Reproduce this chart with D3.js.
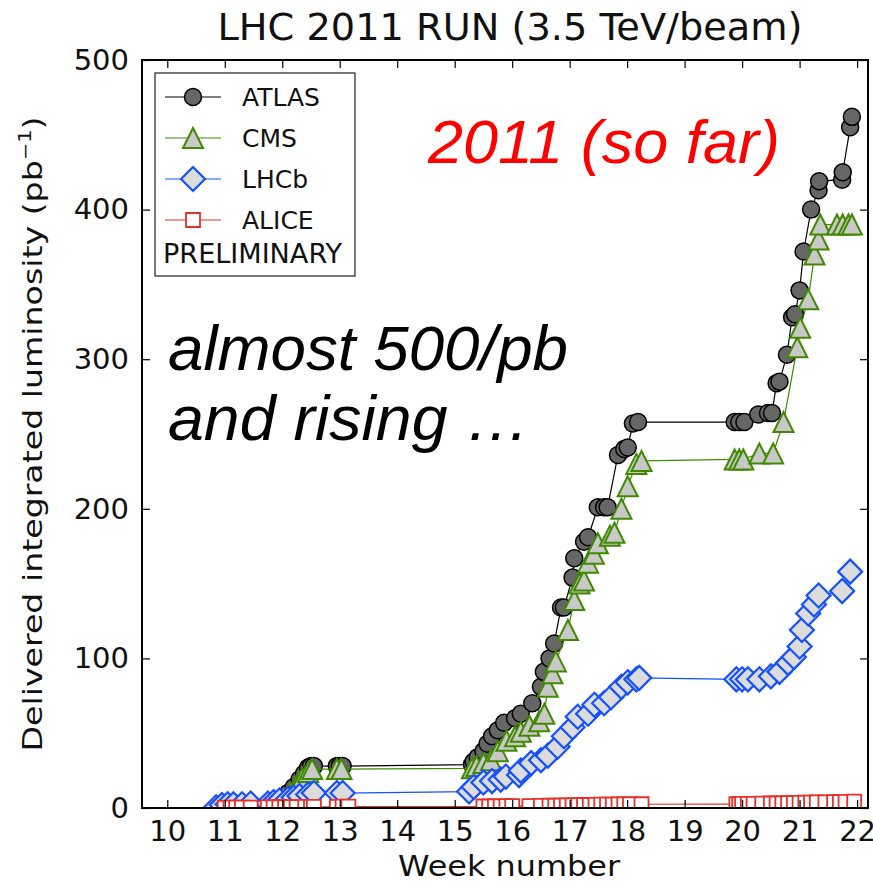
<!DOCTYPE html>
<html lang="en">
<head>
  <meta charset="UTF-8">
  <title>LHC 2011 run luminosity</title>
  <style type="text/css">
    body { margin: 0; background: #fff; }
    text { font-family: "DejaVu Sans", sans-serif; }
    .note { font-family: "Liberation Sans", Arial, sans-serif; font-style: italic; }
  </style>
</head>
<body>
<div id="chart"></div>
<script src="https://cdn.jsdelivr.net/npm/d3@7"></script>
<script type="text/javascript">
  // [week, delivered lumi pb^-1]
  var atlas = [[11.0,0.2],[11.2,0.3],[11.4,0.4],[11.8,1],[11.9,3],[12.0,6],[12.1,10],[12.2,14],[12.3,19],[12.38,23],
    [12.45,27],[12.5,28],[12.55,28],[12.95,28],[13.0,28],[13.05,28],[15.3,29],[15.33,31],[15.4,34],[15.5,38],
    [15.57,43],[15.65,48],[15.75,52],[15.86,57],[16.05,60],[16.15,63],[16.35,70],[16.5,81],[16.55,91],[16.65,100],
    [16.73,110],[16.85,134],[16.9,134],[17.05,154],[17.08,167],[17.25,178],[17.32,181],[17.49,201],[17.6,201],[17.66,201],
    [17.84,236],[17.95,240],[18.01,241],[18.1,257],[18.19,258],[19.87,258],[19.95,258],[20.04,258],[20.28,263],[20.45,264],
    [20.52,264],[20.6,284],[20.65,285],[20.78,303],[20.87,328],[20.92,330],[21.0,346],[21.07,372],[21.2,400],[21.33,413],
    [21.34,419],[21.74,420],[21.75,425],[21.88,455],[21.91,462]];

  var cms = [[11.8,0.5],[11.95,3],[12.05,6],[12.15,10],[12.25,15],[12.35,20],[12.45,24],[12.52,26],[12.95,26],[13.03,26],
    [15.3,26.5],[15.38,28],[15.5,30],[15.63,32],[15.75,38],[15.9,45],[16.05,48],[16.15,51],[16.3,55],[16.47,58],
    [16.56,63],[16.62,81],[16.7,90],[16.76,98],[16.97,119],[17.08,139],[17.17,150],[17.25,152],[17.32,164],[17.42,170],
    [17.49,177],[17.7,182],[17.78,184],[17.9,200],[18.01,215],[18.16,230],[18.25,232],[19.87,233],[19.95,233],[20.02,233],
    [20.3,237],[20.54,237],[20.72,258],[20.96,308],[21.01,321],[21.15,340],[21.26,370],[21.33,380],[21.36,390],[21.65,390],
    [21.75,390],[21.85,390],[21.91,390]];

  var lhcb = [[10.85,0.5],[10.95,2],[11.05,2.5],[11.15,2.5],[11.3,2.5],[11.45,3],[11.75,3],[11.85,4],[11.95,5],[12.1,6],
    [12.2,7],[12.3,8],[12.45,9],[12.55,10],[12.95,10],[13.05,10],[15.25,11],[15.33,14],[15.5,17],[15.65,18],
    [15.8,19],[15.89,21],[16.12,22],[16.15,25],[16.33,30],[16.5,32],[16.62,35],[16.79,41],[16.9,48],[17.05,54],
    [17.14,61],[17.32,63],[17.43,69],[17.6,70],[17.72,74],[17.9,81],[18.01,84],[18.16,86],[18.21,87],[19.9,86],
    [20.0,86],[20.1,86],[20.3,86],[20.5,88],[20.65,91],[20.8,97],[20.9,101],[21.0,108],[21.04,119],[21.15,130],
    [21.25,136],[21.33,142],[21.74,145],[21.88,158]];

  var alice = [[11.0,0.1],[11.1,0.2],[11.2,0.2],[11.3,0.3],[11.45,0.3],[11.75,0.4],[11.85,0.4],[11.95,0.5],[12.05,0.5],
    [12.15,0.6],[12.25,0.6],[12.4,0.7],[12.5,0.7],[12.55,0.8],[12.95,0.8],[13.05,0.9],[13.15,0.9],[15.5,1.0],[15.6,1.0],
    [15.7,1.1],[15.8,1.1],[15.9,1.2],[16.0,1.2],[16.3,1.3],[16.5,1.4],[16.65,1.5],[16.75,1.5],[16.85,1.6],[16.95,1.7],
    [17.05,1.8],[17.15,1.9],[17.25,2.0],[17.35,2.0],[17.45,2.1],[17.55,2.2],[17.65,2.2],[17.75,2.3],[17.85,2.4],[17.95,2.4],
    [18.05,2.5],[18.25,2.5],[19.9,2.6],[19.95,2.6],[20.0,2.7],[20.1,2.7],[20.2,2.8],[20.35,2.9],[20.5,3.0],[20.6,3.0],
    [20.7,3.1],[20.8,3.2],[20.9,3.3],[21.0,3.4],[21.1,3.5],[21.2,3.6],[21.3,3.7],[21.45,3.8],[21.6,3.9],[21.7,4.0],
    [21.8,4.1],[21.95,4.2]];

  var weekTicks = [10, 11, 12, 13, 14, 15, 16, 17, 18, 19, 20, 21, 22];
  var lumiTicks = [0, 100, 200, 300, 400, 500];

  var experiments = [
    { name: "ATLAS", data: atlas, shape: "circle", stroke: "#000", fill: "#666", line: "#000", sw: 1.5 },
    { name: "CMS", data: cms, shape: "triangle", stroke: "#3f8a00", fill: "#c8c8c8", line: "#3f8a00", sw: 2 },
    { name: "LHCb", data: lhcb, shape: "diamond", stroke: "#1450ff", fill: "#dcdcdc", line: "#1450ff", sw: 2.2 },
    { name: "ALICE", data: alice, shape: "square", stroke: "#e8302a", fill: "#fff", line: "#e8302a", sw: 1.8 }
  ];

  var svgW = 873, svgH = 883;
  var plotL = 142, plotR = 868, plotT = 60, plotB = 808;

  var x = d3.scaleLinear().domain([9.56, 22.19]).range([plotL, plotR]);
  var y = d3.scaleLinear().domain([0, 500]).range([plotB, plotT]);

  var svg = d3.select("#chart").append("svg")
    .attr("width", svgW)
    .attr("height", svgH);

  // marker paths centred on 0,0
  function markerPath(shape) {
    if (shape == "circle") return d3.symbol(d3.symbolCircle, Math.PI * 8.5 * 8.5)();
    if (shape == "triangle") return "M0,-10L10,10L-10,10Z";
    if (shape == "diamond") return "M0,-12L12,0L0,12L-12,0Z";
    return "M-7,-7L7,-7L7,7L-7,7Z";
  }

  svg.append("clipPath").attr("id", "plotclip")
    .append("rect").attr("x", plotL).attr("y", plotT)
    .attr("width", plotR - plotL).attr("height", plotB - plotT);

  var plot = svg.append("g").attr("clip-path", "url(#plotclip)");
  var line = d3.line().x(function(d) { return x(d[0]); }).y(function(d) { return y(d[1]); });

  experiments.forEach(function(e) {
    var g = plot.append("g");
    g.append("path")
      .attr("d", line(e.data))
      .attr("fill", "none")
      .attr("stroke", e.line)
      .attr("stroke-width", 1.2);
    g.selectAll("path.m")
      .data(e.data)
      .join("path")
      .attr("class", "m")
      .attr("d", markerPath(e.shape))
      .attr("transform", function(d) { return "translate(" + x(d[0]) + "," + y(d[1]) + ")"; })
      .attr("fill", e.fill)
      .attr("stroke", e.stroke)
      .attr("stroke-width", e.sw);
  });

  // axes: matplotlib style, ticks inside on all four sides
  var tickLen = 8;
  var axisBottom = svg.append("g").attr("transform", "translate(0," + plotB + ")")
    .call(d3.axisBottom(x).tickValues(weekTicks).tickSizeInner(-tickLen).tickSizeOuter(0).tickPadding(12));
  var axisTop = svg.append("g").attr("transform", "translate(0," + plotT + ")")
    .call(d3.axisTop(x).tickValues(weekTicks).tickSizeInner(-tickLen).tickSizeOuter(0).tickFormat(""));
  var axisLeft = svg.append("g").attr("transform", "translate(" + plotL + ",0)")
    .call(d3.axisLeft(y).tickValues(lumiTicks).tickSizeInner(-tickLen).tickSizeOuter(0).tickPadding(13));
  var axisRight = svg.append("g").attr("transform", "translate(" + plotR + ",0)")
    .call(d3.axisRight(y).tickValues(lumiTicks).tickSizeInner(-tickLen).tickSizeOuter(0).tickFormat(""));

  [axisBottom, axisTop, axisLeft, axisRight].forEach(function(a) {
    a.select(".domain").remove();
    a.selectAll(".tick line").attr("stroke", "#000").attr("stroke-width", 1.2);
  });
  axisBottom.selectAll(".tick text")
    .attr("font-family", "DejaVu Sans").attr("font-size", 29).attr("fill", "#111");
  axisLeft.selectAll(".tick text")
    .attr("font-family", "DejaVu Sans").attr("font-size", 29).attr("fill", "#111");

  svg.append("rect")
    .attr("x", plotL).attr("y", plotT)
    .attr("width", plotR - plotL).attr("height", plotB - plotT)
    .attr("fill", "none").attr("stroke", "#000").attr("stroke-width", 2);

  // titles
  svg.append("text")
    .attr("x", 510).attr("y", 40)
    .attr("text-anchor", "middle")
    .attr("font-family", "DejaVu Sans Condensed, DejaVu Sans")
    .attr("font-size", 37).attr("fill", "#111")
    .attr("textLength", 585).attr("lengthAdjust", "spacingAndGlyphs")
    .text("LHC 2011 RUN (3.5 TeV/beam)");

  svg.append("text")
    .attr("x", 509).attr("y", 876)
    .attr("text-anchor", "middle")
    .attr("font-size", 29).attr("fill", "#111")
    .attr("textLength", 222).attr("lengthAdjust", "spacingAndGlyphs")
    .text("Week number");

  var ylab = svg.append("text")
    .attr("transform", "translate(42,434) rotate(-90) scale(1.23,1)")
    .attr("text-anchor", "middle")
    .attr("font-size", 27).attr("fill", "#111");
  ylab.append("tspan").text("Delivered integrated luminosity (pb");
  ylab.append("tspan").attr("dy", -11).attr("font-size", 17).text("\u22121");
  ylab.append("tspan").attr("dy", 11).text(")");

  // legend
  var legend = svg.append("g");
  legend.append("rect")
    .attr("x", 155).attr("y", 73).attr("width", 200).attr("height", 203)
    .attr("fill", "#fff").attr("stroke", "#222").attr("stroke-width", 1.2);
  experiments.forEach(function(e, i) {
    var ly = 97 + i * 41;
    legend.append("line")
      .attr("x1", 165).attr("x2", 221).attr("y1", ly).attr("y2", ly)
      .attr("stroke", e.line).attr("stroke-width", 1.2);
    legend.append("path")
      .attr("d", markerPath(e.shape))
      .attr("transform", "translate(193," + ly + ")")
      .attr("fill", e.fill).attr("stroke", e.stroke).attr("stroke-width", e.sw);
    legend.append("text")
      .attr("x", 242).attr("y", ly + 9)
      .attr("font-size", 25).attr("fill", "#111")
      .text(e.name);
  });
  legend.append("text")
    .attr("x", 163).attr("y", 263)
    .attr("font-size", 26).attr("fill", "#111")
    .attr("textLength", 179).attr("lengthAdjust", "spacingAndGlyphs")
    .text("PRELIMINARY");

  // annotations
  svg.append("text").attr("class", "note")
    .attr("x", 428).attr("y", 163)
    .attr("font-size", 62).attr("fill", "#ff0000")
    .attr("textLength", 352).attr("lengthAdjust", "spacingAndGlyphs")
    .text("2011 (so far)");
  svg.append("text").attr("class", "note")
    .attr("x", 168).attr("y", 370)
    .attr("font-size", 63).attr("fill", "#000")
    .attr("textLength", 400).attr("lengthAdjust", "spacingAndGlyphs")
    .text("almost 500/pb");
  svg.append("text").attr("class", "note")
    .attr("x", 168).attr("y", 440)
    .attr("font-size", 63).attr("fill", "#000")
    .attr("textLength", 362).attr("lengthAdjust", "spacingAndGlyphs")
    .text("and rising \u2026");
</script>
</body>
</html>
